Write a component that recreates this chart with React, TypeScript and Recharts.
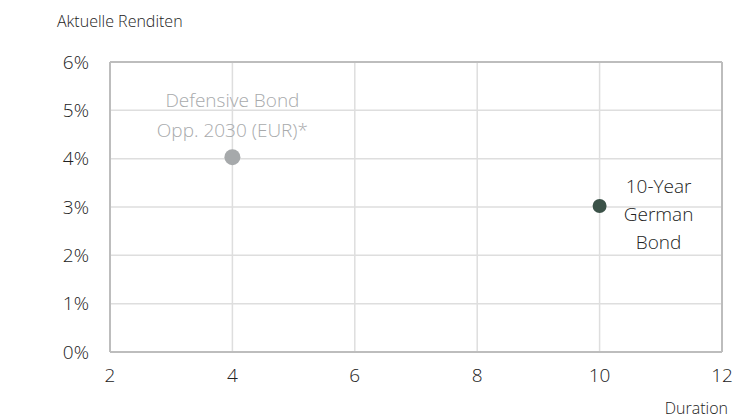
import { ScatterChart, Scatter, XAxis, YAxis, CartesianGrid, ReferenceLine } from 'recharts';

const durationTicks = [2, 4, 6, 8, 10, 12];
const yieldTicks = [0, 1, 2, 3, 4, 5, 6];

const fundPoint = [{ duration: 4, yield: 4.03 }];
const bundPoint = [{ duration: 10, yield: 3.02 }];

const fundLabel = ['Defensive Bond', 'Opp. 2030 (EUR)*'];
const bundLabel = ['10-Year', 'German', 'Bond'];

const FONT = '"Open Sans", "Noto Sans", sans-serif';

function FundShape(props: any) {
  const { cx, cy } = props;
  return (
    <g>
      <circle cx={cx} cy={cy} r={8} fill="#a6a9ab" />
      {fundLabel.map((t, i) => (
        <text key={t} x={cx} y={cy - 50 + i * 30} textAnchor="middle" fontSize={19} fontWeight={300} fill="#a8aaac" fontFamily={FONT}>
          {t}
        </text>
      ))}
    </g>
  );
}

function BundShape(props: any) {
  const { cx, cy } = props;
  return (
    <g>
      <circle cx={cx} cy={cy} r={7} fill="#3b5248" />
      {bundLabel.map((t, i) => (
        <text key={t} x={cx + 59} y={cy - 13 + i * 28} textAnchor="middle" fontSize={19} fontWeight={300} fill="#222" fontFamily={FONT}>
          {t}
        </text>
      ))}
    </g>
  );
}

export default function App() {
  return (
    <div style={{ position: 'absolute', left: 0, top: 0, width: 734, height: 420, background: '#fff', fontFamily: FONT, fontWeight: 300 }}>
      <div style={{ position: 'absolute', left: 57, top: 10, fontSize: 16, color: '#222' }}>Aktuelle Renditen</div>
      <div style={{ position: 'absolute', right: 6, top: 397, fontSize: 16, color: '#222' }}>Duration</div>
      <ScatterChart width={734} height={420} margin={{ top: 62, right: 12, bottom: 38, left: 0 }}>
        <CartesianGrid stroke="#dedede" strokeWidth={1.5} />
        <XAxis
          type="number"
          dataKey="duration"
          domain={[2, 12]}
          ticks={durationTicks}
          tickLine={false}
          tickSize={0}
          tickMargin={17}
          axisLine={{ stroke: '#bdbdbd', strokeWidth: 2 }}
          tick={{ fontSize: 19, fill: '#222', fontFamily: FONT, fontWeight: 300 }}
        />
        <YAxis
          type="number"
          dataKey="yield"
          domain={[0, 6]}
          ticks={yieldTicks}
          width={110}
          tickLine={false}
          tickSize={0}
          tickMargin={21}
          tickFormatter={(v) => `${v}%`}
          axisLine={{ stroke: '#bdbdbd', strokeWidth: 2 }}
          tick={{ fontSize: 19, fill: '#222', fontFamily: FONT, fontWeight: 300 }}
        />
        <ReferenceLine y={6} stroke="#bdbdbd" strokeWidth={2} />
        <ReferenceLine x={12} stroke="#bdbdbd" strokeWidth={2} />
        <Scatter data={fundPoint} shape={<FundShape />} isAnimationActive={false} />
        <Scatter data={bundPoint} shape={<BundShape />} isAnimationActive={false} />
      </ScatterChart>
    </div>
  );
}
